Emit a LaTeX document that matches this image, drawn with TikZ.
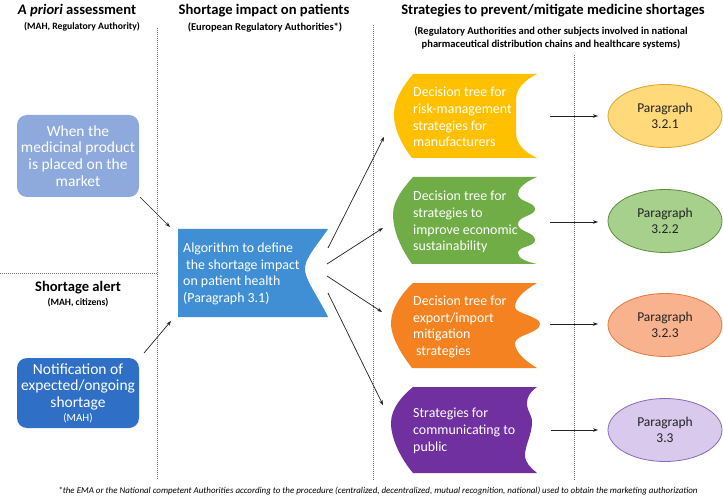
\documentclass[tikz,border=0pt]{standalone}
\usepackage{fontspec}
\setmainfont{Carlito}
\usetikzlibrary{shapes.geometric,arrows.meta}
\definecolor{boxone}{HTML}{8EA9DB}
\definecolor{boxtwo}{HTML}{2F6FC6}
\definecolor{algoc}{HTML}{408FD4}
\definecolor{yelc}{HTML}{FFC000}
\definecolor{grnc}{HTML}{70AD47}
\definecolor{orac}{HTML}{F58220}
\definecolor{purc}{HTML}{7030A0}
\definecolor{yelf}{HTML}{FFD97A}
\definecolor{yeld}{HTML}{D8A530}
\definecolor{grnf}{HTML}{A8D08D}
\definecolor{grnd}{HTML}{5E8C3E}
\definecolor{oraf}{HTML}{F8B38E}
\definecolor{orad}{HTML}{E07A3C}
\definecolor{purf}{HTML}{D9C9EC}
\definecolor{purd}{HTML}{8A6AB5}
\definecolor{sepc}{HTML}{707070}
\definecolor{arrc}{HTML}{222222}
\definecolor{txtc}{HTML}{222222}
\tikzset{
  sepline/.style={draw=sepc, line width=0.6pt, dash pattern=on 1pt off 1pt},
  conn/.style={draw=arrc, line width=0.7pt, -{Stealth[length=5pt,width=3.6pt]}},
  headtxt/.style={font=\fontsize{14.6}{17}\selectfont\bfseries, text=black, inner sep=0pt},
  subtxt/.style={font=\fontsize{9.7}{12}\selectfont\bfseries, text=black, inner sep=0pt, align=center},
  subbig/.style={font=\fontsize{10.5}{12.5}\selectfont\bfseries, text=black, inner sep=0pt, align=center},
  boxtxt/.style={font=\fontsize{13.9}{16.7}\selectfont, text=white, inner sep=0pt},
  rbox/.style={rounded corners=10pt, minimum width=122pt, inner sep=0pt, align=center, font=\fontsize{15.5}{16.7}\selectfont, text=white},
  para/.style={ellipse, line width=0.8pt, minimum width=114pt, minimum height=63pt, inner sep=0pt, align=center, font=\fontsize{13.5}{16.6}\selectfont, text=txtc},
}
\begin{document}
\begin{tikzpicture}[x=1pt,y=-1pt]
\useasboundingbox (0,0) rectangle (723,497);
\fill[white] (0,0) rectangle (723,497);

% separators
\draw[sepline] (157,28) -- (157,480);
\draw[sepline] (373,25) -- (373,480);
\draw[sepline] (574,55) -- (574,480);
\draw[sepline] (0,273) -- (157,273);

% headers
\node[headtxt] (h1) at (77,11) {\textit{A priori} assessment};
\node[subtxt] (h1s) at (82,27) {(MAH, Regulatory Authority)};
\node[headtxt] (h2) at (264,11) {Shortage impact on patients};
\node[subbig] (h2s) at (265,27) {(European Regulatory Authorities*)};
\node[headtxt] (h3) at (553,11) {Strategies to prevent/mitigate medicine shortages};
\node[subbig] (h3s) at (551,38) {(Regulatory Authorities and other subjects involved in national\\pharmaceutical distribution chains and healthcare systems)};
\node[headtxt] (h4) at (78,288) {Shortage alert};
\node[subtxt] (h4s) at (78,303) {(MAH, citizens)};

% left boxes
\node[rbox, fill=boxone, minimum height=82pt] (b1) at (78,156) {When the\\medicinal product\\is placed on the\\market};
\node[rbox, fill=boxtwo, minimum height=70pt] (b2) at (78,393) {Notification of\\expected/ongoing\\shortage\\[-3pt]{\fontsize{11}{12}\selectfont (MAH)}};

% algorithm shape
\fill[algoc] (178,229) -- (328,229) .. controls (318,244) and (303,260) .. (305,271) .. controls (307,283) and (320,300) .. (328,317) -- (178,317) -- cycle;
\node[boxtxt, anchor=west, align=left] (algo) at (183,274) {Algorithm to define\\\hspace{3pt}the shortage impact\\on patient health\\(Paragraph 3.1)};

% yellow
\fill[yelc] (413,74) -- (537,74) .. controls (525,80) and (516,88) .. (516,100) -- (516,132) .. controls (516,145) and (525,152) .. (537,158) -- (412,158) .. controls (402,145) and (393,128) .. (394,112) .. controls (395,97) and (405,84) .. (413,74) -- cycle;
\node[boxtxt, anchor=west, align=left] (dy) at (413,117) {Decision tree for\\risk-management\\strategies for\\manufacturers};

% green
\fill[grnc] (413,177) -- (537,177) .. controls (525,182) and (518,188) .. (518,194) .. controls (518,202) and (535,202) .. (535,209) .. controls (535,216) and (518,216) .. (518,224) .. controls (518,232) and (535,232) .. (535,240) .. controls (535,247) and (518,246) .. (518,253) .. controls (518,259) and (528,262) .. (537,264) -- (412,264) .. controls (402,250) and (393,232) .. (393,214) .. controls (393,200) and (405,186) .. (413,177) -- cycle;
\node[boxtxt, anchor=west, align=left] (dg) at (413,222) {Decision tree for\\strategies to\\improve economic\\sustainability};

% orange
\fill[orac] (413,283) -- (537,283) .. controls (525,290) and (515,298) .. (515,307) .. controls (515,314) and (540,316) .. (540,324) .. controls (540,333) and (515,335) .. (515,343) .. controls (515,353) and (527,362) .. (537,368) -- (412,368) .. controls (402,355) and (391,338) .. (391,323) .. controls (391,308) and (403,292) .. (413,283) -- cycle;
\node[boxtxt, anchor=west, align=left] (do) at (413,327) {Decision tree for\\export/import\\mitigation\\\hspace{3pt}strategies};

% purple
\fill[purc] (413,387) -- (537,387) .. controls (530,392) and (527,397) .. (527,403) .. controls (527,412) and (532,414) .. (532,422) .. controls (532,435) and (525,445) .. (525,455) .. controls (525,463) and (531,468) .. (537,473) -- (413,473) .. controls (402,460) and (391,440) .. (391,423) .. controls (391,408) and (403,395) .. (413,387) -- cycle;
\node[boxtxt, anchor=west, align=left] (dp) at (413,431) {Strategies for\\communicating to\\public};

% ellipses
\node[para, fill=yelf, draw=yeld] (p1) at (665,116) {Paragraph\\3.2.1};
\node[para, fill=grnf, draw=grnd] (p2) at (665,221) {Paragraph\\3.2.2};
\node[para, fill=oraf, draw=orad] (p3) at (665,325) {Paragraph\\3.2.3};
\node[para, fill=purf, draw=purd] (p4) at (665,430) {Paragraph\\3.3};

% connector coordinates
\coordinate (b1o) at (140,197);
\coordinate (algi1) at (170,227);
\coordinate (b2o) at (144,353);
\coordinate (algi2) at (171,321);
\coordinate (ao1) at (328,248);
\coordinate (ao2) at (327,264);
\coordinate (ao3) at (327,276);
\coordinate (ao4) at (328,293);
\coordinate (yi) at (384,137);
\coordinate (gi) at (383,228);
\coordinate (oi) at (382,312);
\coordinate (pi) at (383,405);
\coordinate (yo) at (550,116);
\coordinate (go) at (550,222);
\coordinate (oo) at (550,324);
\coordinate (po) at (551,430);
\coordinate (p1i) at (598,116);
\coordinate (p2i) at (598,222);
\coordinate (p3i) at (598,324);
\coordinate (p4i) at (598,430);

\draw[conn] (b1o) -- (algi1);
\draw[conn] (b2o) -- (algi2);
\draw[conn] (ao1) -- (yi);
\draw[conn] (ao2) -- (gi);
\draw[conn] (ao3) -- (oi);
\draw[conn] (ao4) -- (pi);
\draw[conn] (yo) -- (p1i);
\draw[conn] (go) -- (p2i);
\draw[conn] (oo) -- (p3i);
\draw[conn] (po) -- (p4i);

% footnote
\node[inner sep=0pt, font=\fontsize{8.95}{10}\selectfont\itshape, text=black] (fn) at (378,491) {*the EMA or the National competent Authorities according to the procedure (centralized, decentralized, mutual recognition, national) used to obtain the marketing authorization};
\end{tikzpicture}
\end{document}
